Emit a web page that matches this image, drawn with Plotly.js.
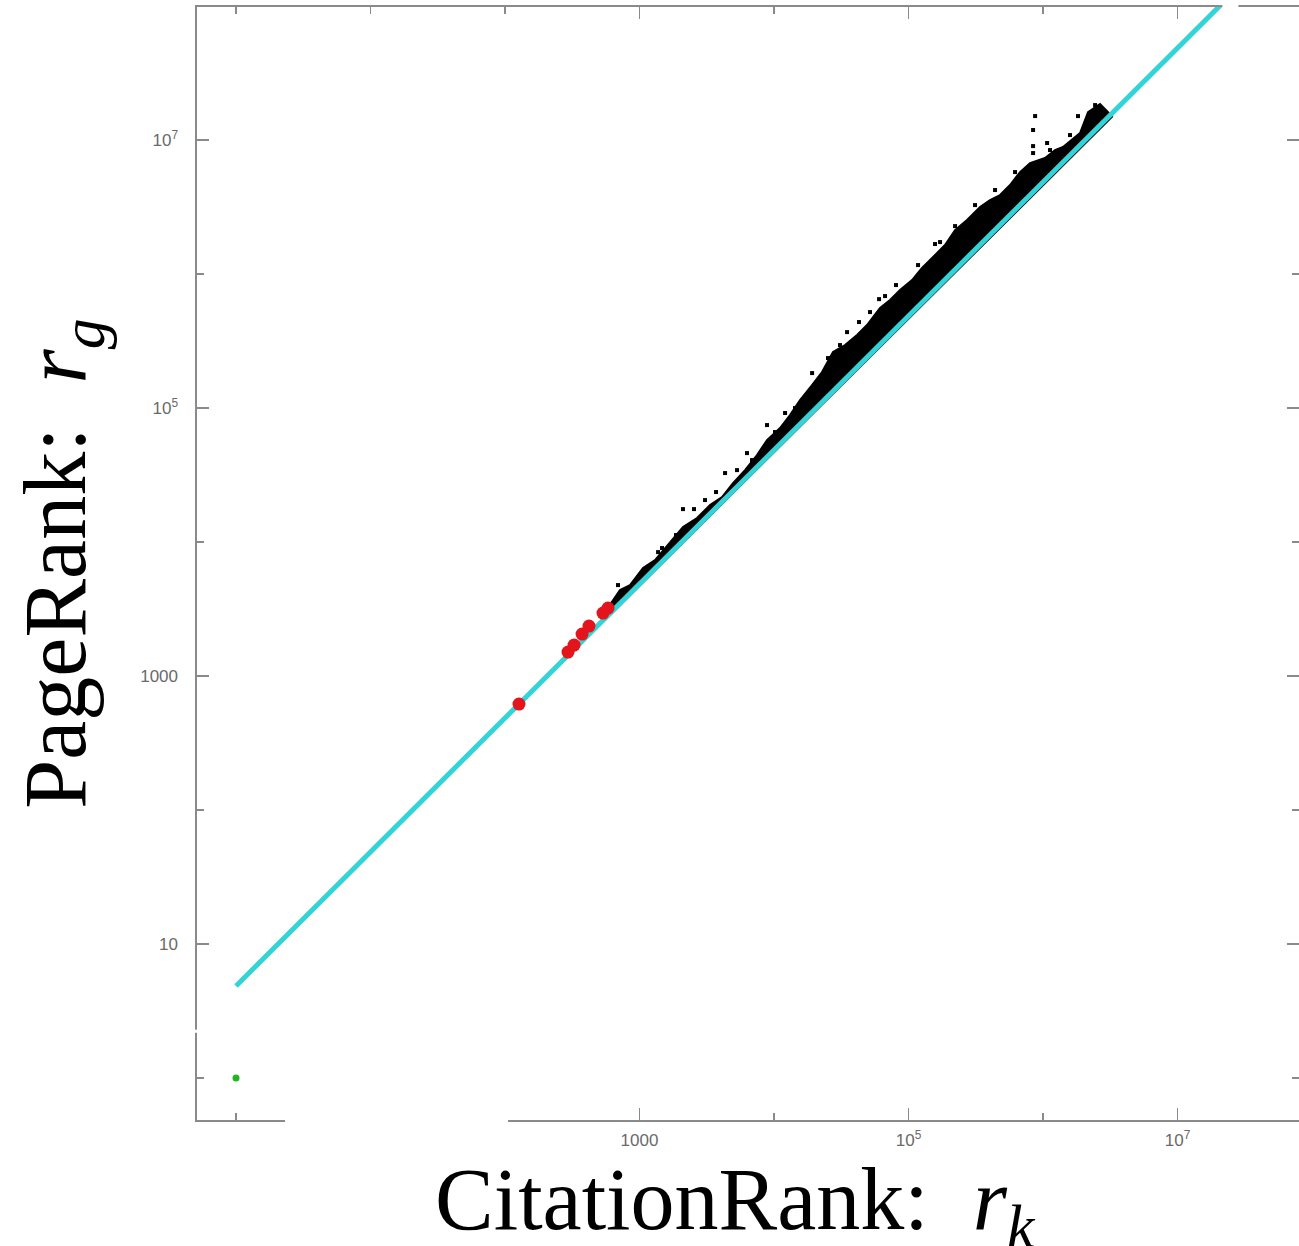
<!DOCTYPE html>
<html>
<head>
<meta charset="utf-8">
<script src="https://cdn.plot.ly/plotly-3.0.1.min.js"></script>
<style>html,body{margin:0;padding:0;background:#fff;}#chart{width:1299px;height:1246px;}</style>
</head>
<body>
<div id="chart"></div>
<script>
// Upper envelope of the dense black cloud (CitationRank, PageRank)
const cloudUpperX = [554, 657.5, 716.1, 850, 1062, 1304, 1629, 2106, 2676, 3344, 4107, 4958, 6087, 7473, 8872, 11080, 13150, 15610, 19170, 22750, 27460, 33730, 41410, 49140, 61400, 72870, 86480, 106200, 126000, 152100, 186800, 221700, 272200, 340200, 403600, 478900, 568400, 674500, 800600, 1035000, 1228000, 1408000, 1643000, 1884000, 2161000, 2654000, 3043000, 3258000];
const cloudUpperY = [3003, 3821, 4384, 4777, 6397, 7341, 9497, 12940, 15110, 18880, 21670, 27570, 34460, 44600, 57700, 70910, 88680, 114700, 148500, 185700, 261800, 295200, 350500, 416300, 557600, 639800, 759600, 902000, 1109000, 1339000, 1646000, 2130000, 2530000, 3162000, 3567000, 3886000, 4615000, 5770000, 6737000, 7340000, 8422000, 8868000, 10000000, 11280000, 16180000, 18570000, 16180000, 14930000];
// Lower edge of the cloud (lies on the fitted line)
const cloudLowerX = [3258000, 554];
const cloudLowerY = [14930000, 2624];
// Scattered outlying black points
const outX = [692, 879, 1374, 2104, 2541, 4325, 5309, 6295, 8872, 12080, 19190, 34910, 42850, 60390, 80720, 157400, 221800, 843300, 843300, 1072000, 843300, 873000, 1820000, 2438000,
              1009, 1470, 1868, 3069, 3706, 6862, 10170, 14320, 25200, 30950, 51730, 66890, 117700, 171500, 312200, 439700, 619300, 1127000, 1587000];
const outY = [4775, 4613, 8414, 17620, 17620, 32730, 34430, 46130, 74650, 91830, 182400, 368900, 438500, 650100, 827900, 1675000, 2280000, 11890000, 9016000, 9506000, 7998000, 15100000, 15100000, 18240000,
              5672, 9023, 11280, 20580, 23620, 40920, 66220, 100000, 236100, 295200, 520400, 685200, 1167000, 1733000, 3272000, 4236000, 5770000, 8422000, 10900000];
// Red highlighted points
const redX = [127, 294, 326, 374, 421, 535, 583];
const redY = [618, 1510, 1703, 2056, 2360, 2951, 3214];
// Green point
const greenX = [1];
const greenY = [1];
// Fitted line endpoints
const fitX = [1, 22000000];
const fitY = [4.87, 107000000];
// Ticks
const xMajorTicks = [1000, 100000, 10000000];
const xMajorText = ['1000', '10<sup>5</sup>', '10<sup>7</sup>'];
const xMinorTicks = [1, 10, 100, 10000, 1000000];
const yMajorTicks = [10, 1000, 100000, 10000000];
const yMajorText = ['10', '1000', '10<sup>5</sup>', '10<sup>7</sup>'];
const yMinorTicks = [1, 100, 10000, 1000000];

const polyX = cloudUpperX.concat(cloudLowerX);
const polyY = cloudUpperY.concat(cloudLowerY);

const traces = [
  {x: polyX, y: polyY, type: 'scatter', mode: 'lines', fill: 'toself',
   fillcolor: '#000000', line: {color: '#000000', width: 2}, hoverinfo: 'skip', showlegend: false},
  {x: outX, y: outY, type: 'scatter', mode: 'markers',
   marker: {symbol: 'square', size: 4, color: '#000000'}, showlegend: false},
  {x: fitX, y: fitY, type: 'scatter', mode: 'lines',
   line: {color: '#33d3d6', width: 5}, showlegend: false},
  {x: redX, y: redY, type: 'scatter', mode: 'markers',
   marker: {size: 13, color: '#e3141b'}, showlegend: false},
  {x: greenX, y: greenY, type: 'scatter', mode: 'markers',
   marker: {size: 7, color: '#22b522'}, showlegend: false}
];

const tickFont = {family: 'Liberation Sans, Arial, sans-serif', size: 17, color: '#6a6a6a'};
const titleFont = {family: 'Liberation Serif, Times New Roman, serif', size: 88, color: '#000000'};

const axisCommon = {
  type: 'log', autorange: false,
  showgrid: false, zeroline: false,
  showline: true, linecolor: '#8a8a8a', linewidth: 1.6, mirror: 'ticks',
  ticks: 'inside', ticklen: 12, tickwidth: 1.5, tickcolor: '#8a8a8a',
  tickmode: 'array', tickfont: tickFont, automargin: false
};

const layout = {
  width: 1299, height: 1246,
  margin: {l: 197, r: 0, t: 7, b: 126, pad: 0},
  paper_bgcolor: '#ffffff', plot_bgcolor: '#ffffff',
  showlegend: false,
  xaxis: Object.assign({}, axisCommon, {
    range: [-0.29, 7.903],
    tickvals: xMajorTicks, ticktext: xMajorText,
    minor: {tickmode: 'array', tickvals: xMinorTicks, ticks: 'inside', ticklen: 7, tickwidth: 1.5, tickcolor: '#8a8a8a'},
    ticklabelstandoff: 4
  }),
  yaxis: Object.assign({}, axisCommon, {
    range: [-0.313, 7.993],
    tickvals: yMajorTicks, ticktext: yMajorText,
    minor: {tickmode: 'array', tickvals: yMinorTicks, ticks: 'inside', ticklen: 7, tickwidth: 1.5, tickcolor: '#8a8a8a'},
    ticklabelstandoff: 14,
    title: {text: 'PageRank:\u00a0\u00a0<i>r</i><sub><i>g</i></sub>', font: titleFont, standoff: 25}
  }),
  annotations: [
    {text: 'CitationRank:\u00a0\u00a0<i>r</i><sub><i>k</i></sub>', font: titleFont,
     xref: 'paper', yref: 'paper', x: 0.489, y: -0.0764, xanchor: 'center', yanchor: 'middle',
     showarrow: false}
  ],
  shapes: [
    {type: 'rect', xref: 'paper', yref: 'paper', x0: 0.0799, x1: 0.2822, y0: -0.03, y1: 0.014,
     fillcolor: '#ffffff', line: {width: 0}, layer: 'above'},
    {type: 'rect', xref: 'paper', yref: 'paper', x0: -0.004, x1: 0.004, y0: 0.0784, y1: 0.0812,
     fillcolor: '#ffffff', line: {width: 0}, layer: 'above'},
    {type: 'rect', xref: 'paper', yref: 'paper', x0: 0.9305, x1: 0.9450, y0: 0.994, y1: 1.01,
     fillcolor: '#ffffff', line: {width: 0}, layer: 'above'}
  ]
};

Plotly.newPlot('chart', traces, layout, {displayModeBar: false, staticPlot: true});
</script>
</body>
</html>
